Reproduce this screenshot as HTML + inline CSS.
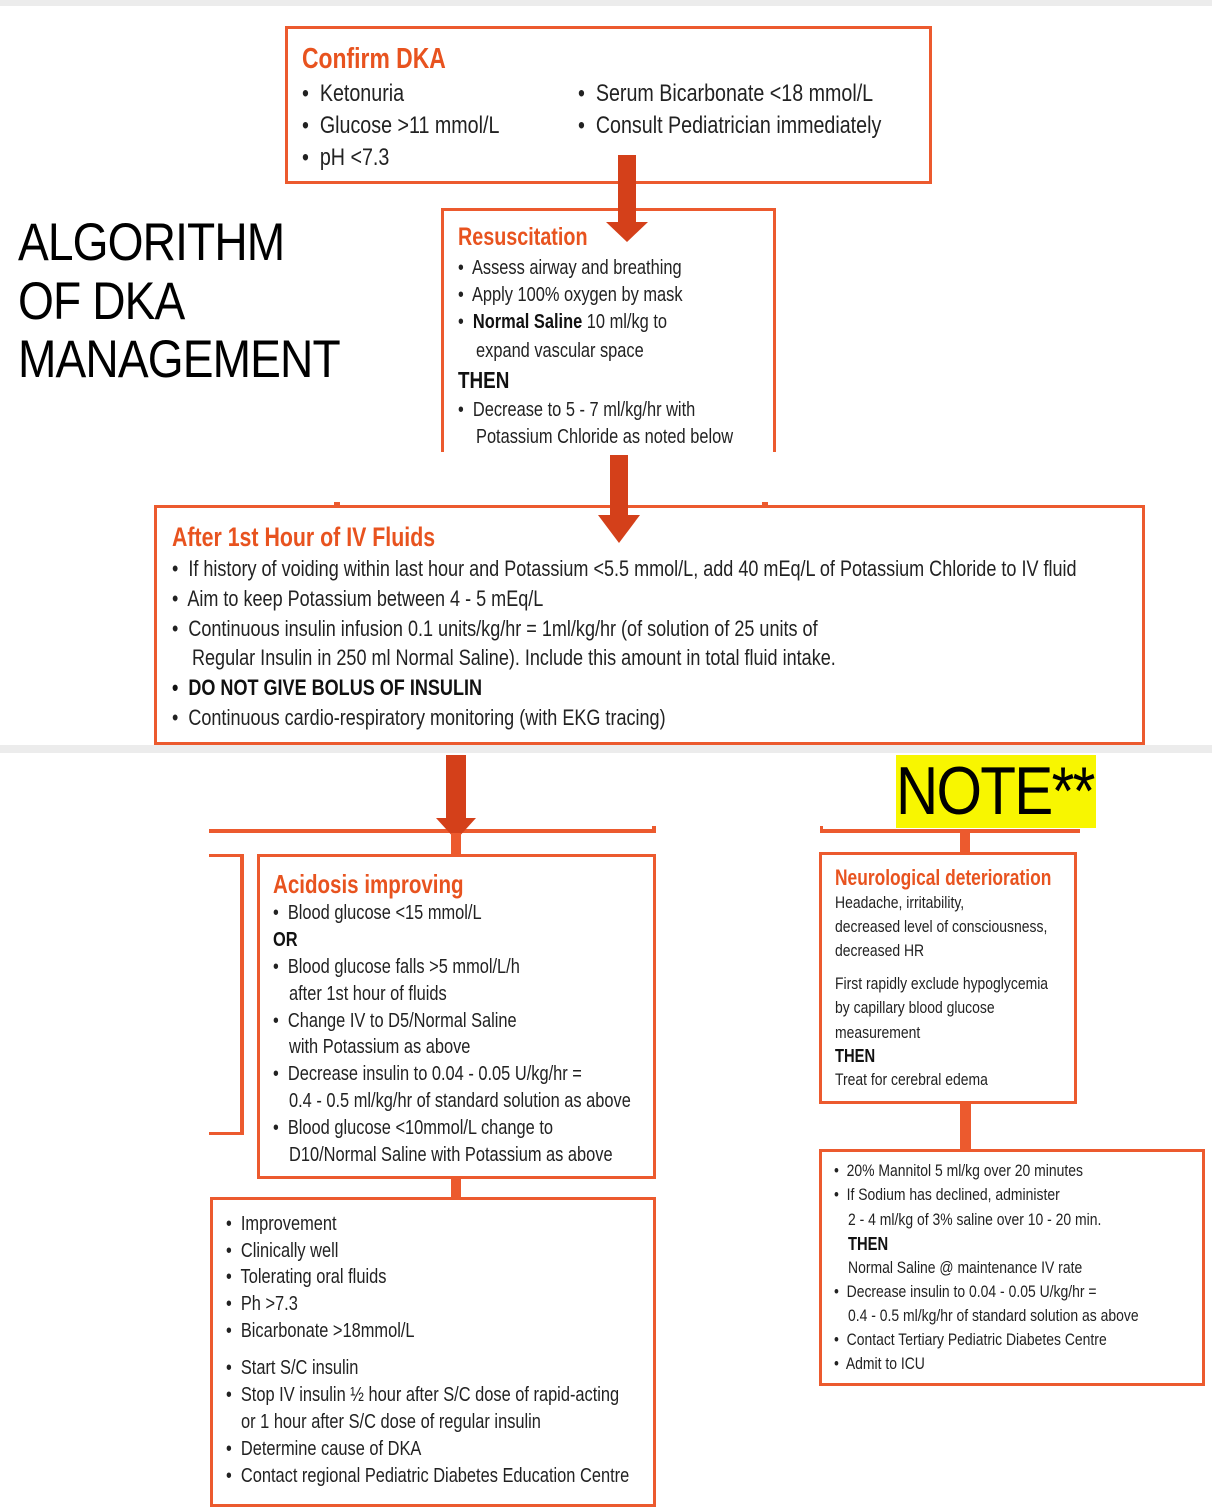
<!DOCTYPE html>
<html><head><meta charset="utf-8"><style>
body{margin:0;width:1212px;height:1488px;position:relative;overflow:hidden;background:#fff;font-family:"Liberation Sans",sans-serif;color:#222}
.b{position:absolute;border:3px solid #ec5a2e;box-sizing:border-box;background:#fff}
.r{position:absolute;background:#ec5a2e}
.a{position:absolute;background:#d4401a}
.l{position:absolute;white-space:nowrap;line-height:30px;height:30px;transform:scaleX(0.82);transform-origin:0 0}
.t{color:#e8531f;font-weight:bold;transform:scaleX(0.79)}
.k{font-weight:bold;color:#111}
</style></head><body>
<div style="position:absolute;left:0;top:0;width:1212px;height:6px;background:#ececec"></div>
<div style="position:absolute;left:0;top:745px;width:1212px;height:8px;background:#ececec"></div>

<!-- Box1 -->
<div class="b" style="left:285px;top:26px;width:647px;height:158px"></div>
<div class="l t" style="left:302px;top:44px;font-size:29px">Confirm DKA</div>
<div class="l" style="left:302px;top:79px;font-size:24px">•&nbsp; Ketonuria</div>
<div class="l" style="left:302px;top:111px;font-size:24px">•&nbsp; Glucose &gt;11 mmol/L</div>
<div class="l" style="left:302px;top:143px;font-size:24px">•&nbsp; pH &lt;7.3</div>
<div class="l" style="left:578px;top:79px;font-size:24px">•&nbsp; Serum Bicarbonate &lt;18 mmol/L</div>
<div class="l" style="left:578px;top:111px;font-size:24px">•&nbsp; Consult Pediatrician immediately</div>

<!-- Title -->
<div style="position:absolute;left:18px;top:214px;font-size:53px;line-height:58.5px;color:#000;letter-spacing:-1px;transform:scaleX(0.87);transform-origin:0 0">ALGORITHM<br>OF DKA<br>MANAGEMENT</div>

<!-- Box2 -->
<div class="b" style="left:441px;top:208px;width:335px;height:260px;border-bottom:none"></div>
<div style="position:absolute;left:430px;top:452px;width:360px;height:20px;background:#fff"></div>
<div class="l t" style="left:458px;top:222px;font-size:25px">Resuscitation</div>
<div class="l" style="left:458px;top:253px;font-size:20px">•&nbsp; Assess airway and breathing</div>
<div class="l" style="left:458px;top:280px;font-size:20px">•&nbsp; Apply 100% oxygen by mask</div>
<div class="l" style="left:458px;top:307px;font-size:20px">•&nbsp; <b class="k">Normal Saline</b> 10 ml/kg to</div>
<div class="l" style="left:476px;top:336px;font-size:20px">expand vascular space</div>
<div class="l k" style="left:458px;top:365px;font-size:23px">THEN</div>
<div class="l" style="left:458px;top:395px;font-size:20px">•&nbsp; Decrease to 5 - 7 ml/kg/hr with</div>
<div class="l" style="left:476px;top:422px;font-size:20px">Potassium Chloride as noted below</div>

<!-- Arrow1 -->
<div class="a" style="left:618px;top:155px;width:18px;height:70px"></div>
<div style="position:absolute;left:606px;top:222px;width:0;height:0;border-left:21px solid transparent;border-right:21px solid transparent;border-top:20px solid #d4401a"></div>

<!-- Box3 -->
<div class="r" style="left:334px;top:502px;width:6px;height:6px"></div>
<div class="r" style="left:762px;top:502px;width:6px;height:6px"></div>
<div class="b" style="left:154px;top:505px;width:991px;height:240px"></div>
<div class="l t" style="left:172px;top:522px;font-size:27px">After 1st Hour of IV Fluids</div>
<div class="l" style="left:172px;top:554px;font-size:22px">•&nbsp; If history of voiding within last hour and Potassium &lt;5.5 mmol/L, add 40 mEq/L of Potassium Chloride to IV fluid</div>
<div class="l" style="left:172px;top:584px;font-size:22px">•&nbsp; Aim to keep Potassium between 4 - 5 mEq/L</div>
<div class="l" style="left:172px;top:614px;font-size:22px">•&nbsp; Continuous insulin infusion 0.1 units/kg/hr = 1ml/kg/hr (of solution of 25 units of</div>
<div class="l" style="left:192px;top:643px;font-size:22px">Regular Insulin in 250 ml Normal Saline). Include this amount in total fluid intake.</div>
<div class="l k" style="left:172px;top:673px;font-size:22px">•&nbsp; DO NOT GIVE BOLUS OF INSULIN</div>
<div class="l" style="left:172px;top:703px;font-size:22px">•&nbsp; Continuous cardio-respiratory monitoring (with EKG tracing)</div>

<!-- Arrow2 -->
<div class="a" style="left:610px;top:455px;width:18px;height:62px"></div>
<div style="position:absolute;left:598px;top:515px;width:0;height:0;border-left:21px solid transparent;border-right:21px solid transparent;border-top:28px solid #d4401a"></div>

<!-- Arrow3 + left connectors -->
<div class="a" style="left:446px;top:755px;width:20px;height:65px"></div>
<div class="r" style="left:209px;top:829px;width:447px;height:4px"></div>
<div class="r" style="left:652px;top:826px;width:4px;height:7px"></div>
<div style="position:absolute;left:436px;top:818px;width:0;height:0;border-left:20px solid transparent;border-right:20px solid transparent;border-top:22px solid #d4401a"></div>
<div class="r" style="left:451px;top:833px;width:10px;height:23px"></div>
<div class="r" style="left:209px;top:854px;width:35px;height:3px"></div>
<div class="r" style="left:240px;top:854px;width:4px;height:281px"></div>
<div class="r" style="left:209px;top:1132px;width:35px;height:3px"></div>

<!-- Box4 -->
<div class="b" style="left:257px;top:854px;width:399px;height:325px"></div>
<div class="l t" style="left:273px;top:869px;font-size:26px">Acidosis improving</div>
<div class="l" style="left:273px;top:898px;font-size:20px">•&nbsp; Blood glucose &lt;15 mmol/L</div>
<div class="l k" style="left:273px;top:925px;font-size:20px">OR</div>
<div class="l" style="left:273px;top:952px;font-size:20px">•&nbsp; Blood glucose falls &gt;5 mmol/L/h</div>
<div class="l" style="left:289px;top:979px;font-size:20px">after 1st hour of fluids</div>
<div class="l" style="left:273px;top:1006px;font-size:20px">•&nbsp; Change IV to D5/Normal Saline</div>
<div class="l" style="left:289px;top:1032px;font-size:20px">with Potassium as above</div>
<div class="l" style="left:273px;top:1059px;font-size:20px">•&nbsp; Decrease insulin to 0.04 - 0.05 U/kg/hr =</div>
<div class="l" style="left:289px;top:1086px;font-size:20px">0.4 - 0.5 ml/kg/hr of standard solution as above</div>
<div class="l" style="left:273px;top:1113px;font-size:20px">•&nbsp; Blood glucose &lt;10mmol/L change to</div>
<div class="l" style="left:289px;top:1140px;font-size:20px">D10/Normal Saline with Potassium as above</div>

<div class="r" style="left:451px;top:1178px;width:10px;height:21px"></div>

<!-- Box5 -->
<div class="b" style="left:210px;top:1197px;width:446px;height:310px"></div>
<div class="l" style="left:226px;top:1209px;font-size:20px">•&nbsp; Improvement</div>
<div class="l" style="left:226px;top:1236px;font-size:20px">•&nbsp; Clinically well</div>
<div class="l" style="left:226px;top:1262px;font-size:20px">•&nbsp; Tolerating oral fluids</div>
<div class="l" style="left:226px;top:1289px;font-size:20px">•&nbsp; Ph &gt;7.3</div>
<div class="l" style="left:226px;top:1316px;font-size:20px">•&nbsp; Bicarbonate &gt;18mmol/L</div>
<div class="l" style="left:226px;top:1353px;font-size:20px">•&nbsp; Start S/C insulin</div>
<div class="l" style="left:226px;top:1380px;font-size:20px">•&nbsp; Stop IV insulin ½ hour after S/C dose of rapid-acting</div>
<div class="l" style="left:241px;top:1407px;font-size:20px">or 1 hour after S/C dose of regular insulin</div>
<div class="l" style="left:226px;top:1434px;font-size:20px">•&nbsp; Determine cause of DKA</div>
<div class="l" style="left:226px;top:1461px;font-size:20px">•&nbsp; Contact regional Pediatric Diabetes Education Centre</div>

<!-- NOTE -->
<div style="position:absolute;left:896px;top:755px;width:200px;height:73px;background:#f8f600"></div>
<div style="position:absolute;left:896px;top:752px;font-size:68px;line-height:78px;color:#000;letter-spacing:-2px;transform:scaleX(0.86);transform-origin:0 0;white-space:nowrap">NOTE**</div>

<!-- Right connectors -->
<div class="r" style="left:820px;top:829px;width:260px;height:4px"></div>
<div class="r" style="left:820px;top:826px;width:3px;height:7px"></div>
<div class="r" style="left:960px;top:833px;width:10px;height:21px"></div>

<!-- Box6 -->
<div class="b" style="left:819px;top:852px;width:258px;height:252px"></div>
<div class="l t" style="left:835px;top:863px;font-size:22px">Neurological deterioration</div>
<div class="l" style="left:835px;top:888px;font-size:17px">Headache, irritability,</div>
<div class="l" style="left:835px;top:912px;font-size:17px">decreased level of consciousness,</div>
<div class="l" style="left:835px;top:936px;font-size:17px">decreased HR</div>
<div class="l" style="left:835px;top:969px;font-size:17px">First rapidly exclude hypoglycemia</div>
<div class="l" style="left:835px;top:993px;font-size:17px">by capillary blood glucose</div>
<div class="l" style="left:835px;top:1018px;font-size:17px">measurement</div>
<div class="l k" style="left:835px;top:1041px;font-size:18px">THEN</div>
<div class="l" style="left:835px;top:1065px;font-size:17px">Treat for cerebral edema</div>

<div class="r" style="left:960px;top:1103px;width:11px;height:48px"></div>

<!-- Box7 -->
<div class="b" style="left:819px;top:1149px;width:386px;height:237px"></div>
<div class="l" style="left:834px;top:1156px;font-size:17px">•&nbsp; 20% Mannitol 5 ml/kg over 20 minutes</div>
<div class="l" style="left:834px;top:1180px;font-size:17px">•&nbsp; If Sodium has declined, administer</div>
<div class="l" style="left:848px;top:1205px;font-size:17px">2 - 4 ml/kg of 3% saline over 10 - 20 min.</div>
<div class="l k" style="left:848px;top:1229px;font-size:18px">THEN</div>
<div class="l" style="left:848px;top:1253px;font-size:17px">Normal Saline @ maintenance IV rate</div>
<div class="l" style="left:834px;top:1277px;font-size:17px">•&nbsp; Decrease insulin to 0.04 - 0.05 U/kg/hr =</div>
<div class="l" style="left:848px;top:1301px;font-size:17px">0.4 - 0.5 ml/kg/hr of standard solution as above</div>
<div class="l" style="left:834px;top:1325px;font-size:17px">•&nbsp; Contact Tertiary Pediatric Diabetes Centre</div>
<div class="l" style="left:834px;top:1349px;font-size:17px">•&nbsp; Admit to ICU</div>
</body></html>
